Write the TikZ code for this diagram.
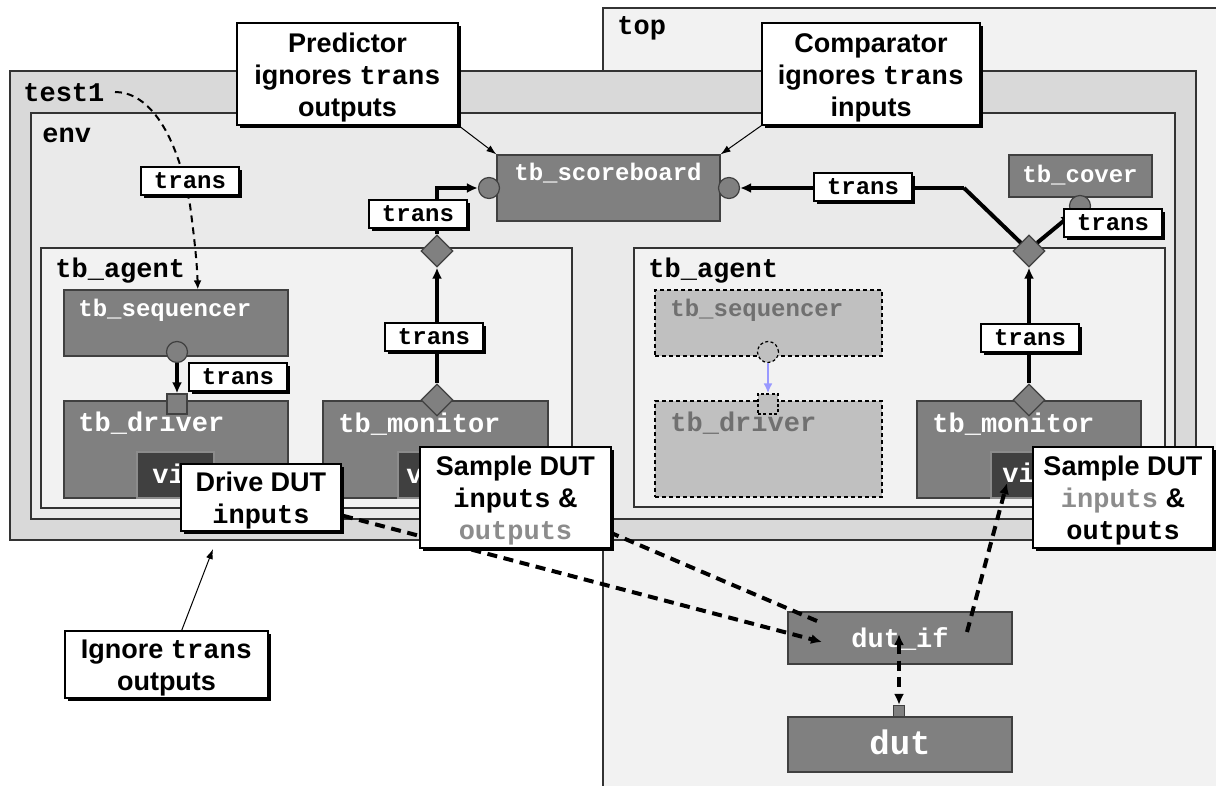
\documentclass[tikz,border=0pt]{standalone}
\usepackage{fontspec}
\setmainfont{Liberation Sans}
\setmonofont{Liberation Mono}
\usetikzlibrary{fit,shapes.geometric,arrows.meta,shadows}

\definecolor{topfill}{HTML}{F2F2F2}
\definecolor{testfill}{HTML}{D9D9D9}
\definecolor{envfill}{HTML}{EAEAEA}
\definecolor{agentfill}{HTML}{F2F2F2}
\definecolor{compfill}{HTML}{808080}
\definecolor{viffill}{HTML}{404040}
\definecolor{ghostfill}{HTML}{C0C0C0}
\definecolor{ghosttext}{HTML}{707070}
\definecolor{softtext}{HTML}{8C8C8C}
\definecolor{linkblue}{HTML}{9999FF}

% first-line strut for the note boxes
\newcommand{\notestrut}{\rule{0pt}{13pt}}

\tikzset{
  frame/.style={draw=black!80, line width=0.6pt, inner sep=0pt},
  comp/.style={draw=black!75, fill=compfill, line width=0.6pt, inner sep=0pt},
  ghost/.style={draw=black, fill=ghostfill, line width=0.6pt, inner sep=0pt, dash pattern=on 2pt off 1.5pt},
  vifbox/.style={draw=black!45, fill=viffill, line width=0.6pt, inner sep=0pt},
  codebig/.style={font=\fontsize{13.5}{15}\selectfont\ttfamily\bfseries},
  codesmall/.style={font=\fontsize{12}{14}\selectfont\ttfamily\bfseries},
  lbl/.style={inner sep=0pt, anchor=base west},
  wlbl/.style={inner sep=0pt, text=white},
  glbl/.style={inner sep=0pt, anchor=base west, text=ghosttext},
  port/.style={circle, draw=black!75, fill=compfill, minimum size=10.5pt, inner sep=0pt, line width=0.6pt},
  portsq/.style={rectangle, draw=black!75, fill=compfill, minimum size=10pt, inner sep=0pt, line width=0.6pt},
  gport/.style={circle, draw=black, fill=ghostfill, minimum size=10.5pt, inner sep=0pt, line width=0.6pt, dash pattern=on 1.5pt off 1.2pt},
  gportsq/.style={rectangle, draw=black, fill=ghostfill, minimum size=10pt, inner sep=0pt, line width=0.6pt, dash pattern=on 1.5pt off 1.2pt},
  export/.style={diamond, draw=black!75, fill=compfill, minimum width=16pt, minimum height=16pt, inner sep=0pt, line width=0.6pt},
  flow/.style={line width=2pt, -{Latex[length=5.5pt,width=5pt]}},
  wire/.style={line width=2pt},
  shade box/.style={drop shadow={shadow xshift=1.6pt, shadow yshift=-1.6pt, opacity=1, fill=black}},
  tag/.style={draw=black, fill=white, line width=0.6pt, inner sep=0pt, minimum width=49pt, minimum height=14pt, codesmall, shade box},
  note/.style={draw=black, fill=white, line width=0.6pt, inner sep=0pt, align=center, font=\fontsize{13.5}{16}\selectfont\bfseries, shade box},
  pointer/.style={line width=0.5pt, -{Latex[length=5pt,width=3.5pt]}},
  bus/.style={line width=2pt, dash pattern=on 5pt off 3.3pt},
  bus arrow/.style={bus, -{Latex[length=5.5pt,width=5pt]}},
  cfglink/.style={line width=1pt, dash pattern=on 3.5pt off 2.5pt, -{Latex[length=4.5pt,width=4pt]}},
}

\begin{document}
\begin{tikzpicture}[x=0.5pt,y=-0.5pt]
\path[use as bounding box, fill=white] (0,0) rectangle (1216,786);

% ---- hierarchy frames ----
\node[frame, fill=topfill, fit={(603,8) (1240,800)}] (top) {};
\node[lbl, codebig] (toplbl) at (617,35) {top};
\node[frame, fill=testfill, fit={(10,71) (1196,540)}] (test1) {};
\node[lbl, codebig] (t1lbl) at (23,102) {test1};
\node[frame, fill=envfill, fit={(31,113) (1175,519)}] (env) {};
\node[lbl, codebig] (envlbl) at (42,143) {env};
\node[frame, fill=agentfill, fit={(41,248) (572,508)}] (agA) {};
\node[lbl, codebig] (agAlbl) at (55,278) {tb\_agent};
\node[frame, fill=agentfill, fit={(634,248) (1165,507)}] (agB) {};
\node[lbl, codebig] (agBlbl) at (648,278) {tb\_agent};

% ---- env level components ----
\node[comp, fit={(497,155) (720,221)}] (sb) {};
\node[wlbl, codesmall, anchor=base] (sblbl) at (608,181) {tb\_scoreboard};
\node[comp, fit={(1009,155) (1152,197)}] (cov) {};
\node[wlbl, codesmall, anchor=base] (covlbl) at (1080,183) {tb\_cover};

% ---- active agent ----
\node[comp, fit={(64,290) (288,356)}] (seq) {};
\node[wlbl, codesmall, anchor=base west] (seqlbl) at (78,317) {tb\_sequencer};
\node[comp, fit={(64,401) (288,498)}] (drv) {};
\node[wlbl, codebig, anchor=base west] (drvlbl) at (78,431) {tb\_driver};
\node[vifbox, fit={(137,452) (214,498)}] (dvif) {};
\node[wlbl, codebig, anchor=base west] (dviflbl) at (152,483) {vif};
\node[comp, fit={(323,401) (548,498)}] (monA) {};
\node[wlbl, codebig, anchor=base west] (monAlbl) at (338,432) {tb\_monitor};
\node[vifbox, fit={(398,452) (475,498)}] (mvif) {};
\node[wlbl, codebig, anchor=base west] (mviflbl) at (406,483) {vif};

% ---- passive agent ----
\node[ghost, fit={(655,290) (882,356)}] (gseq) {};
\node[glbl, codesmall] (gseqlbl) at (670,317) {tb\_sequencer};
\node[ghost, fit={(655,401) (882,497)}] (gdrv) {};
\node[glbl, codebig] (gdrvlbl) at (670,431) {tb\_driver};
\node[comp, fit={(917,401) (1141,498)}] (monB) {};
\node[wlbl, codebig, anchor=base west] (monBlbl) at (932,432) {tb\_monitor};
\node[vifbox, fit={(991,452) (1068,498)}] (rvif) {};
\node[wlbl, codebig, anchor=base west] (rviflbl) at (1002,482) {vif};

% ---- DUT side ----
\node[comp, fit={(788,612) (1012,664)}] (dif) {};
\node[wlbl, codebig, anchor=base] (diflbl) at (900,647) {dut\_if};
\node[comp, fit={(788,717) (1012,772)}] (dut) {};
\node[wlbl, font=\fontsize{17}{19}\selectfont\ttfamily\bfseries, anchor=base] (dutlbl) at (900,754) {dut};
\node[portsq, minimum size=5.5pt] (dutp) at (899,711) {};

% ---- ports ----
\node[port] (scL) at (489,188) {};
\node[port] (scR) at (729,188) {};
\node[port] (cvp) at (1080,206) {};
\node[port] (seqp) at (177,352) {};
\node[portsq] (drvp) at (177,404) {};
\node[gport] (gseqp) at (768,352) {};
\node[gportsq] (gdrvp) at (768,404) {};
\node[export] (pdA) at (437,251) {};
\node[export] (pmA) at (437,400) {};
\node[export] (pdB) at (1029,251) {};
\node[export] (pmB) at (1029,400) {};

% ---- transaction connections ----
\coordinate (bendB) at (964,188);
\draw[flow] (pmA.north) -- (pdA.south);
\draw[flow] (pdA.north) |- (scL.west);
\draw[flow] (pmB.north) -- (pdB.south);
\draw[wire] (pdB.north west) -- (bendB);
\draw[flow] (bendB) -- (scR.east);
\draw[flow] (pdB.north east) -- (cvp.south west);
\draw[flow] (seqp.south) -- (drvp.north);
\draw[line width=1.2pt, linkblue, -{Latex[length=5pt,width=4.5pt]}] (gseqp.south) -- (gdrvp.north);

% configuration link from the test
\coordinate (t1out) at (115,92);
\coordinate (t1mid) at (190,205);
\draw[cfglink] (t1out) .. controls (145,92) and (175,125) .. (t1mid)
  .. controls (194,235) and (197,262) .. (seq.57.5);

% ---- pin-level connections ----
\coordinate (difA) at (822,642);
\coordinate (difB) at (817,621);
\coordinate (difC) at (967,632);
\coordinate (difD) at (899,634);
\coordinate (rvifin) at (1007,483);
\draw[bus arrow] (dvif.-10) -- (difA);
\draw[bus arrow] (difB) -- (mvif.east);
\draw[bus arrow] (difC) -- (rvifin);
\draw[bus, {Latex[length=5.5pt,width=5pt]}-{Latex[length=5.5pt,width=5pt]}] (difD) -- (dutp.north);

% ---- transaction tags ----
\node[tag] (tagT) at (190,181) {trans};
\node[tag] (tagS) at (238,377) {trans};
\node[tag] (tagMA) at (434,337) {trans};
\node[tag] (tagAA) at (418,214) {trans};
\node[tag] (tagSB) at (863,187) {trans};
\node[tag] (tagCV) at (1113,223) {trans};
\node[tag] (tagMB) at (1030,338) {trans};

% ---- notes ----
\node[note, minimum width=110.5pt, minimum height=51pt] (pred) at (347.5,74) {\notestrut Predictor\\ignores {\ttfamily trans}\\outputs};
\node[note, minimum width=109pt, minimum height=51pt] (cmpr) at (871,74) {\notestrut Comparator\\ignores {\ttfamily trans}\\inputs};
\node[note, minimum width=80pt, minimum height=33.5pt] (drive) at (261,497.5) {\notestrut Drive DUT\\{\ttfamily inputs}};
\node[note, minimum width=95.5pt, minimum height=50.5pt] (sampA) at (515.5,497.5) {\notestrut Sample DUT\\{\ttfamily inputs} \&\\{\ttfamily\color{softtext}outputs}};
\node[note, minimum width=90pt, minimum height=50.5pt] (sampB) at (1123,497.5) {\notestrut Sample DUT\\{\ttfamily\color{softtext}inputs} \&\\{\ttfamily outputs}};
\node[note, minimum width=101.5pt, minimum height=33.5pt] (ign) at (166.5,664.5) {\notestrut Ignore {\ttfamily trans}\\outputs};

\coordinate (igtip) at (213,549);
\draw[pointer] (pred.south east) -- (sb.north west);
\draw[pointer] (cmpr.south west) -- (sb.north east);
\draw[pointer] (ign.66.6) -- (igtip);
\end{tikzpicture}
\end{document}
